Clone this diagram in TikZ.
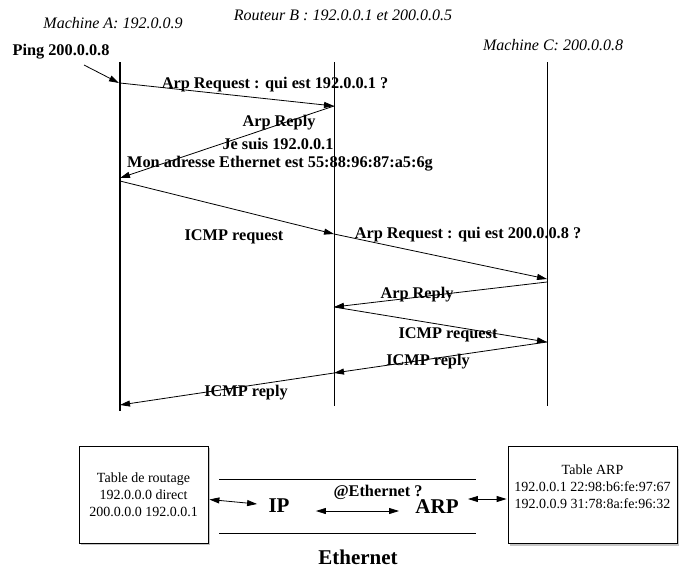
\documentclass[tikz,border=0pt]{standalone}
\usepackage{fontspec}
\setmainfont{Liberation Serif}
\usetikzlibrary{arrows.meta,calc,shadows}

\begin{document}
\begin{tikzpicture}[x=1pt,y=-1pt,line width=0.8pt,
    >={Triangle[length=10pt,width=6pt]},
    msg/.style={font=\fontsize{16.3}{18}\selectfont\bfseries, inner sep=0pt},
    host/.style={font=\fontsize{16}{18}\selectfont\itshape, inner sep=0pt},
    layer/.style={font=\fontsize{21}{24}\selectfont\bfseries, inner sep=0pt},
    tabtxt/.style={font=\fontsize{14}{17}\selectfont, align=center, inner sep=0pt},
    tbox/.style={draw, fill=white, minimum width=129pt, minimum height=97pt,
                 drop shadow={shadow xshift=2pt,shadow yshift=-2pt,fill=black!45}}]
            \useasboundingbox (0,0) rectangle (679,570);
            % titres
            \node[host] (hA) at (113,23) {Machine A: 192.0.0.9};
            \node[host] (hB) at (343,15) {Routeur B : 192.0.0.1 et 200.0.0.5};
            \node[host] (hC) at (553,45) {Machine C: 200.0.0.8};
            \node[msg] (ping) at (61,52) {Ping 200.0.0.8};
            % lignes de vie
            \coordinate (At) at (120,62);
            \coordinate (Ab) at (120,411);
            \coordinate (Bt) at (334,62);
            \coordinate (Bb) at (334,406);
            \coordinate (Ct) at (547,62);
            \coordinate (Cb) at (547,406);
            \draw[line width=1.2pt] (At) -- (Ab);
            \draw (Bt) -- (Bb);
            \draw (Ct) -- (Cb);
            % points des messages
            \coordinate (p0) at (84,65);
            \coordinate (a1) at (120,83);
            \coordinate (b1) at (334,106);
            \coordinate (a2) at (120,178);
            \coordinate (a3) at (120,181);
            \coordinate (b3) at (334,234);
            \coordinate (c4) at (547,279);
            \coordinate (c5) at (547,282);
            \coordinate (b5) at (334,307);
            \coordinate (c6) at (547,342);
            \coordinate (b7) at (334,373);
            \coordinate (a8) at (120,405);
            \draw[->] (p0) -- ([xshift=-1pt]a1);
            \draw[->] (a1) -- (b1);
            \draw[->] (b1) -- (a2);
            \draw[->] (a3) -- (b3);
            \draw[->] (b3) -- (c4);
            \draw[->] (c5) -- (b5);
            \draw[->] (b5) -- (c6);
            \draw[->] (c6) -- (b7);
            \draw[->] (b7) -- (a8);
            % textes des messages
            \node[msg] (m1) at (275,85) {Arp Request : qui est 192.0.0.1 ?};
            \node[msg] (m2a) at (279,123) {Arp Reply};
            \node[msg] (m2b) at (278,144) {Je suis 192.0.0.1};
            \node[msg] (m2c) at (280,164) {Mon adresse Ethernet est 55:88:96:87:a5:6g};
            \node[msg] (m3) at (234,237) {ICMP request};
            \node[msg] (m4) at (468,235) {Arp Request : qui est 200.0.0.8 ?};
            \node[msg] (m5) at (417,295) {Arp Reply};
            \node[msg] (m6) at (448,335) {ICMP request};
            \node[msg] (m7) at (428,362) {ICMP reply};
            \node[msg] (m8) at (246,393) {ICMP reply};
            % couches
            \node[tbox] (rt) at (143.5,494.5) {};
            \node[tabtxt] (rttxt) at (rt.center) {Table de routage\\192.0.0.0 direct\\200.0.0.0 192.0.0.1};
            \node[tbox, minimum width=169pt] (tarp) at (592.5,495) {};
            \node[tabtxt] (arptxt) at ($(tarp.center)+(0,-8)$) {Table ARP\\192.0.0.1 22:98:b6:fe:97:67\\192.0.0.9 31:78:8a:fe:96:32};
            \coordinate (e1) at (219,479);
            \coordinate (e2) at (476,479);
            \coordinate (e3) at (219,533);
            \coordinate (e4) at (476,533);
            \draw (e1) -- (e2);
            \draw (e3) -- (e4);
            \node[layer] (ip) at (279,506) {IP};
            \node[layer] (arp) at (437,507) {ARP};
            \node[msg] (qeth) at (378,492) {@Ethernet ?};
            \node[layer] (eth) at (358,557) {Ethernet};
            \draw[<->] ($(rt.east)+(1,5)$) -- ($(ip.west)+(-11,-2)$);
            \draw[<->] ($(ip.east)+(26,5)$) -- ($(arp.west)+(-16,4)$);
            \draw[<->] ($(arp.east)+(9,-8)$) -- ($(tarp.west)+(-1,4)$);
        \end{tikzpicture}
\end{document}
